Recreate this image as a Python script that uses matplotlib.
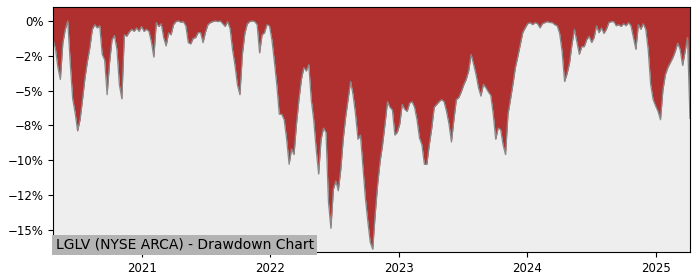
import matplotlib
matplotlib.use('Agg')
import matplotlib.pyplot as plt
import matplotlib.ticker as mticker
import pandas as pd

# Weekly drawdown (%)
start_date = '2020-04-22'
drawdown = [
    -1.34, -2.0, -3.35, -4.21, -1.6, -0.6, 0.0, -3.0, -5.6, -6.6,
    -7.9, -7.1, -5.65, -4.1, -2.9, -1.9, -0.6, -0.27, -0.5, -0.35,
    -2.4, -2.8, -5.3, -3.0, -1.35, -1.05, -2.05, -4.6, -5.6, -1.0,
    -1.1, -0.8, -0.6, -0.75, -0.5, -0.75, -0.4, -0.75, -0.6, -0.75,
    -1.5, -2.6, -0.12, -0.4, -0.2, -1.2, -1.8, -0.85, -1.0, -0.27,
    -0.05, 0.0, -0.1, -0.05, -0.35, -1.56, -1.65, -1.25, -1.2, -0.84,
    -0.84, -1.56, -0.8, -0.27, -0.12, -0.05, 0.0, -0.05, 0.0, -0.2,
    -0.4, -0.05, -0.55, -2.06, -3.2, -4.6, -5.3, -2.4, -0.9, -0.2,
    -0.05, 0.0, -0.05, -0.27, -2.3, -1.0, -0.85, -0.27, -0.35, -1.35,
    -2.9, -4.6, -6.7, -6.7, -7.1, -8.5, -10.3, -9.2, -9.6, -7.4,
    -5.65, -4.2, -3.35, -3.6, -3.14, -5.65, -7.1, -9.2, -11.0, -8.5,
    -7.7, -8.0, -13.0, -14.9, -12.1, -11.5, -12.2, -10.7, -8.5, -6.9,
    -5.6, -4.35, -5.3, -6.7, -8.5, -8.2, -10.5, -12.7, -14.4, -15.9,
    -16.4, -13.9, -11.75, -10.1, -8.9, -7.4, -5.8, -6.2, -6.4, -8.2,
    -8.0, -7.4, -6.0, -6.35, -6.5, -5.9, -5.8, -6.2, -7.1, -8.4,
    -8.9, -10.3, -10.3, -8.9, -7.7, -6.2, -6.0, -5.8, -5.65, -5.8,
    -6.5, -7.4, -8.7, -7.1, -5.65, -5.5, -5.1, -4.6, -4.2, -3.6,
    -2.4, -3.1, -3.85, -4.8, -5.4, -4.55, -4.8, -5.1, -5.35, -6.7,
    -8.5, -7.7, -7.8, -8.9, -9.6, -6.7, -5.65, -4.55, -3.35, -2.55,
    -1.7, -0.84, -0.5, -0.2, -0.12, -0.27, -0.12, -0.2, -0.5, -0.2,
    -0.12, -0.05, -0.12, -0.12, -0.27, -0.35, -0.9, -2.2, -4.35, -3.8,
    -3.05, -1.7, -0.6, -1.5, -2.4, -1.85, -1.85, -1.35, -1.1, -1.55,
    -1.2, -0.35, -0.85, -0.5, -0.9, -0.6, -0.12, -0.05, -0.05, -0.35,
    -0.27, -0.4, -0.2, -0.35, -0.12, -0.35, -1.2, -2.05, -0.27, -0.6,
    -0.2, -0.6, -2.05, -4.55, -5.65, -6.1, -6.5, -7.1, -4.95, -3.85,
    -3.35, -3.0, -2.65, -2.2, -1.6, -2.05, -3.2, -2.2, -1.2, -7.0,
]
dates = pd.date_range(start_date, periods=len(drawdown), freq='7D')
yticks = [0, -2.5, -5, -7.5, -10, -12.5, -15]
title = 'LGLV (NYSE ARCA) - Drawdown Chart'

fig = plt.figure(figsize=(7, 2.8), dpi=100)
ax = fig.add_axes([0.0757, 0.1, 0.91, 0.875])
ax.set_facecolor('#eeeeee')

y_top = 1.0
ax.fill_between(dates, drawdown, y_top, color='#b03030', linewidth=0)
ax.plot(dates, drawdown, color='#888888', linewidth=0.9)

ax.set_xlim(dates[0], dates[-1])
ax.set_ylim(-16.6, y_top)

ax.set_yticks(yticks)
ax.yaxis.set_major_formatter(mticker.FuncFormatter(
    lambda v, p: '{:.0f}%'.format(v).replace('-', '\u2212') if v != 0 else '0%'))
ax.xaxis.set_major_locator(matplotlib.dates.YearLocator())
ax.xaxis.set_major_formatter(matplotlib.dates.DateFormatter('%Y'))
ax.tick_params(labelsize=8.5)

ax.text(0.004, 0.0, title, transform=ax.transAxes, fontsize=10,
        ha='left', va='bottom',
        bbox=dict(facecolor='#b3b3b3', edgecolor='none', pad=2.5))

plt.savefig('out.png', dpi=100)
